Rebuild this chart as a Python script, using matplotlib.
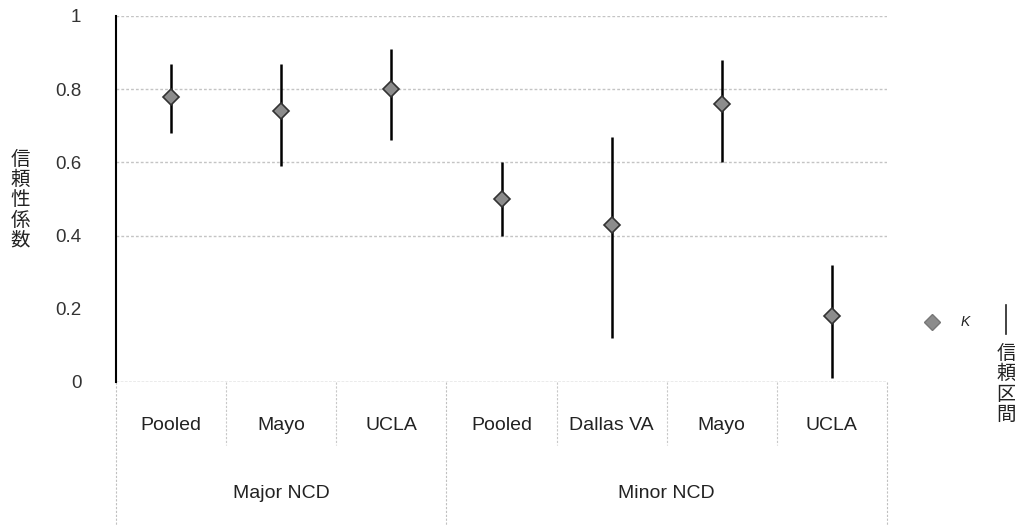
import matplotlib
matplotlib.use("Agg")
import matplotlib.pyplot as plt
from matplotlib.lines import Line2D
import matplotlib.transforms as mtransforms

plt.rcParams['font.family'] = ['Liberation Sans', 'Noto Sans CJK JP', 'DejaVu Sans']

categories = ["Pooled", "Mayo", "UCLA", "Pooled", "Dallas VA", "Mayo", "UCLA"]
groups = ["Major NCD", "Minor NCD"]
group_sizes = [3, 4]
kappa = [0.78, 0.74, 0.80, 0.50, 0.43, 0.76, 0.18]
ci_low = [0.68, 0.59, 0.66, 0.40, 0.12, 0.60, 0.01]
ci_high = [0.87, 0.87, 0.91, 0.60, 0.67, 0.88, 0.32]
yticks = [0, 0.2, 0.4, 0.6, 0.8, 1]
ytick_labels = ["0", "0.2", "0.4", "0.6", "0.8", "1"]
grid_levels = [0.4, 0.6, 0.8, 1]
ylabel = "信頼性係数"
legend_kappa = "K"
legend_ci = "信頼区間"

W, H = 1015, 526
fig = plt.figure(figsize=(W / 100, H / 100), dpi=100)
ax = fig.add_axes([116 / W, 1 - 382 / H, (887 - 116) / W, (382 - 16) / H])

x = list(range(len(categories)))
ax.set_xlim(-0.5, len(categories) - 0.5)
ax.set_ylim(0, 1)

# gridlines
for t in grid_levels:
    ax.axhline(t, color="#c4c4c4", lw=1.0, ls=(0, (2, 1.5)), zorder=0)
ax.axhline(0, color="#9a9a9a", lw=1.0, ls=(0, (2, 1.0)), zorder=0)

# CI lines
ax.vlines(x, ci_low, ci_high, color="black", lw=1.8, zorder=2)
ax.plot(x, kappa, ls="none", marker="D", ms=8.5, mfc="#8c8c8c", mec="#333333", mew=1.2, zorder=3)

for s in ["top", "right", "bottom"]:
    ax.spines[s].set_visible(False)
ax.spines["left"].set_color("black")
ax.spines["left"].set_linewidth(1.5)
ax.set_xticks([])
ax.set_yticks(yticks)
ax.set_yticklabels(ytick_labels, fontsize=13.5, color="#333333")
ax.tick_params(axis="y", length=0, pad=25)

# category table below axis
trans = mtransforms.blended_transform_factory(ax.transData, fig.transFigure)
y0 = 1 - 382 / H
ymid = 1 - 445 / H
ybot = 0.0
for i, c in enumerate(categories):
    ax.text(i, 1 - 426 / H, c, transform=trans, ha="center", va="center", fontsize=14, color="#222222")

# separators
bounds = [-0.5]
acc = -0.5
for gs in group_sizes:
    acc += gs
    bounds.append(acc)
for i in range(len(categories) + 1):
    xb = i - 0.5
    if xb in bounds:
        ax.add_line(Line2D([xb, xb], [y0, ybot], transform=trans, color="#c0c0c0", lw=0.8, ls=(0, (2, 1.5)), clip_on=False))
    else:
        ax.add_line(Line2D([xb, xb], [y0, ymid], transform=trans, color="#c8c8c8", lw=0.8, ls=(0, (2, 1.5)), clip_on=False))

start = -0.5
for g, gs in zip(groups, group_sizes):
    ax.text(start + gs / 2, 1 - 494 / H, g, transform=trans, ha="center", va="center", fontsize=14, color="#222222")
    start += gs

# y label (vertical stacked)
fig.text(20 / W, 1 - 200 / H, "\n".join(ylabel), ha="center", va="center", fontsize=14,
         linespacing=0.95, family=["Noto Sans CJK JP"], color="#222222")

# legend
fig.add_artist(Line2D([932 / W], [1 - 322 / H], marker="D", ms=8.5, mfc="#8c8c8c", mec="#777777", ls="none"))
fig.text(965 / W, 1 - 322 / H, legend_kappa, ha="center", va="center", fontsize=10, style="italic", color="#222222")
fig.add_artist(Line2D([1006 / W, 1006 / W], [1 - 305 / H, 1 - 334 / H], color="#222222", lw=1.2))
fig.text(1006 / W, 1 - 384 / H, "\n".join(legend_ci), ha="center", va="center", fontsize=14,
         linespacing=0.95, family=["Noto Sans CJK JP"], color="#222222")

fig.savefig("out.png", dpi=100)
